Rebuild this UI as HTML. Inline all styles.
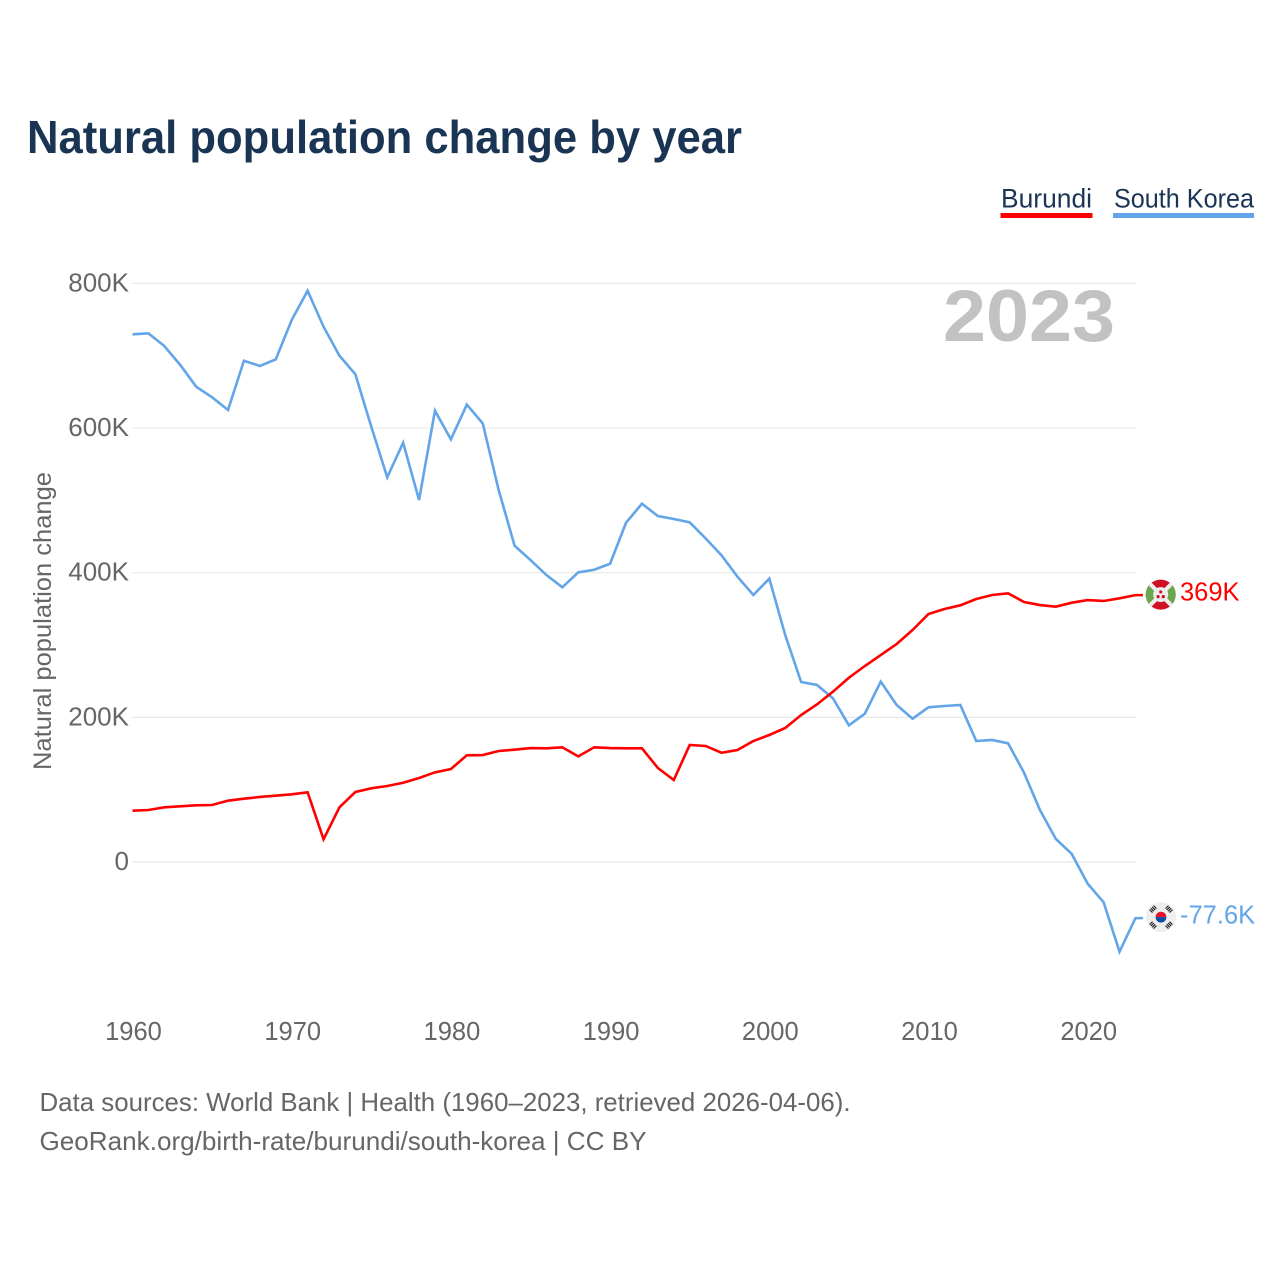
<!DOCTYPE html>
<html lang="en">
<head>
<meta charset="utf-8">
<title>Natural population change by year</title>
<style>
html,body{margin:0;padding:0;background:#fff;width:1280px;height:1280px;overflow:hidden}
svg{display:block;font-family:"Liberation Sans",sans-serif}
</style>
</head>
<body>
<svg id="chart" width="1280" height="1280" viewBox="0 0 1280 1280" xmlns="http://www.w3.org/2000/svg">
  <rect width="1280" height="1280" fill="#fff"/>
  <text x="27" y="153" font-size="46" font-weight="700" fill="#1a3454" textLength="715" lengthAdjust="spacingAndGlyphs">Natural population change by year</text>

  <g>
    <text x="1001" y="207.5" font-size="27" fill="#1a3454" textLength="91" lengthAdjust="spacingAndGlyphs">Burundi</text>
    <rect x="1000.5" y="213" width="92" height="5" fill="#ff0000"/>
  </g>
  <g>
    <text x="1114" y="207.5" font-size="27" fill="#1a3454" textLength="140" lengthAdjust="spacingAndGlyphs">South Korea</text>
    <rect x="1113" y="213" width="141" height="5" fill="#62a5e8"/>
  </g>

  <g id="grid"></g>
  <g id="yticks"></g>
  <g id="xticks"></g>

  <text transform="translate(51,621) rotate(-90)" text-anchor="middle" font-size="25" fill="#666" textLength="298" lengthAdjust="spacingAndGlyphs">Natural population change</text>
  <text x="943" y="341" font-size="73" font-weight="700" fill="#c2c2c2" textLength="172" lengthAdjust="spacingAndGlyphs">2023</text>

  <g id="series"></g>

  <g id="flag-burundi">
    <clipPath id="clip-bi"><circle r="15"/></clipPath>
    <g clip-path="url(#clip-bi)">
      <rect x="-16" y="-16" width="32" height="32" fill="#ce1126"/>
      <polygon points="-16,-16 0,0 -16,16" fill="#6aa84f"/>
      <polygon points="16,-16 0,0 16,16" fill="#6aa84f"/>
      <line x1="-16" y1="-16" x2="16" y2="16" stroke="#eee" stroke-width="4"/>
      <line x1="16" y1="-16" x2="-16" y2="16" stroke="#eee" stroke-width="4"/>
      <circle r="7.5" fill="#eee"/>
      <circle cx="0" cy="-2.7" r="1.6" fill="#ce1126"/>
      <circle cx="-2.6" cy="2" r="1.6" fill="#ce1126"/>
      <circle cx="2.6" cy="2" r="1.6" fill="#ce1126"/>
    </g>
  </g>
  <g id="flag-korea">
    <circle r="15" fill="#eeeeee"/>
    <path d="M-5.4,0 A5.4,5.4 0 0 1 5.4,0 Z" fill="#e8112d"/>
    <path d="M-5.4,0 A5.4,5.4 0 0 0 5.4,0 Z" fill="#0b4ea2"/>
    <g stroke="#222" stroke-width="4.2" stroke-dasharray="1.2 .7" fill="none">
      <line x1="-10.4" y1="-5.6" x2="-5.6" y2="-10.4"/>
      <line x1="10.4" y1="-5.6" x2="5.6" y2="-10.4"/>
      <line x1="-10.4" y1="5.6" x2="-5.6" y2="10.4"/>
      <line x1="10.4" y1="5.6" x2="5.6" y2="10.4"/>
    </g>
  </g>
  <text id="label-burundi" x="1180" font-size="25.5" fill="#ff0000"></text>
  <text id="label-korea" x="1180" font-size="25.5" fill="#62a5e8"></text>

  <text x="39.5" y="1111" font-size="26" fill="#666" textLength="811" lengthAdjust="spacingAndGlyphs">Data sources: World Bank | Health (1960–2023, retrieved 2026-04-06).</text>
  <text x="39.5" y="1150" font-size="26" fill="#666" textLength="607" lengthAdjust="spacingAndGlyphs">GeoRank.org/birth-rate/burundi/south-korea | CC BY</text>
</svg>
<script>
const firstYear = 1960;
const burundiValues = [70.9,71.9,75.6,77,78.4,78.8,84.8,87.5,89.9,91.7,93.6,96.4,31.4,75.6,96.8,101.9,105.1,109.6,116.1,124,128.6,147.5,147.9,153.5,155.3,157.6,157.2,158.6,146.1,158.6,157.6,157.2,157.2,130,113.4,161.8,160.4,151.1,154.9,167.3,175.6,185.3,203.2,218,235.5,254.8,271,286.2,301.4,320.8,342.9,349.8,354.9,363.6,369.2,371.5,359.5,355.3,353,358.5,362.2,360.9,364.6,369];
const koreaValues = [729.6,731,713.4,687.2,657.2,642.5,625,693.1,685.8,695,749.4,789.9,740.1,700,674.3,601.8,531.9,579.7,500.5,624,584.4,632.3,606.5,514.3,437.3,417.5,396.8,379.8,400.5,404.1,412.4,469.1,495.4,478.4,474.2,469.7,447.5,424,394.5,369.2,391.7,313.9,248.9,244.7,226.3,189,205,249.3,217.1,198.1,213.9,215.7,217.1,167.3,168.7,164.1,123.5,71.9,31.8,11.1,-30,-55.7,-124,-77.6];
const yTickValues = [0,200,400,600,800];
const yTickLabels = ['0','200K','400K','600K','800K'];
const xTickValues = [1960,1970,1980,1990,2000,2010,2020];

const NS = 'http://www.w3.org/2000/svg';
function xScale(year){ return 132.5 + (year - 1960) * 15.92; }
function yScale(v){ return 862 - v * 0.72325; }
function formatValue(v){
  const a = Math.abs(v);
  return (v < 0 ? '-' : '') + (a >= 100 ? String(Math.round(a)) : a.toFixed(1)) + 'K';
}

const grid = document.getElementById('grid');
const yticks = document.getElementById('yticks');
const xticks = document.getElementById('xticks');
const seriesGroup = document.getElementById('series');

yTickValues.forEach(function(v, i){
  const line = document.createElementNS(NS, 'line');
  
  
  line.setAttribute('x1', 132);
  line.setAttribute('x2', 1136);
  line.setAttribute('y1', yScale(v));
  line.setAttribute('y2', yScale(v));
  line.setAttribute('stroke', '#e8e8e8');
  line.setAttribute('stroke-width', '1.2');
  grid.appendChild(line);

  const t = document.createElementNS(NS, 'text');
  
  
  t.setAttribute('x', 129);
  t.setAttribute('y', yScale(v) + 8);
  t.setAttribute('text-anchor', 'end');
  t.setAttribute('font-size', '26');
  t.setAttribute('fill', '#666');
  t.textContent = yTickLabels[i];
  yticks.appendChild(t);
});

xTickValues.forEach(function(year){
  const t = document.createElementNS(NS, 'text');
  
  
  t.setAttribute('x', xScale(year) + 1);
  t.setAttribute('y', 1040);
  t.setAttribute('text-anchor', 'middle');
  t.setAttribute('font-size', '25.5');
  t.setAttribute('fill', '#666');
  t.textContent = String(year);
  xticks.appendChild(t);
});

function linePath(values){
  const pts = values.map(function(v, i){
    return xScale(firstYear + i).toFixed(2) + ',' + yScale(v).toFixed(2);
  });
  const last = values[values.length - 1];
  pts.push((xScale(firstYear + values.length - 1) + 7.5).toFixed(2) + ',' + yScale(last).toFixed(2));
  return 'M' + pts.join('L');
}

const koreaLine = document.createElementNS(NS, 'path');


koreaLine.setAttribute('d', linePath(koreaValues));
koreaLine.setAttribute('fill', 'none');
koreaLine.setAttribute('stroke', '#62a5e8');
koreaLine.setAttribute('stroke-width', '2.6');
koreaLine.setAttribute('stroke-linejoin', 'miter');
seriesGroup.appendChild(koreaLine);

const burundiLine = document.createElementNS(NS, 'path');


burundiLine.setAttribute('d', linePath(burundiValues));
burundiLine.setAttribute('fill', 'none');
burundiLine.setAttribute('stroke', '#ff0000');
burundiLine.setAttribute('stroke-width', '2.6');
burundiLine.setAttribute('stroke-linejoin', 'miter');
seriesGroup.appendChild(burundiLine);

const biLast = burundiValues[burundiValues.length - 1];
const krLast = koreaValues[koreaValues.length - 1];
document.getElementById('flag-burundi').setAttribute('transform', 'translate(1160.7,' + (yScale(biLast) - 0.5) + ')');
document.getElementById('flag-korea').setAttribute('transform', 'translate(1161,' + (yScale(krLast) - 1) + ')');
const biLabel = document.getElementById('label-burundi');
biLabel.setAttribute('y', yScale(biLast) + 5.5);
biLabel.textContent = formatValue(biLast);
const krLabel = document.getElementById('label-korea');
krLabel.setAttribute('y', yScale(krLast) + 5.5);
krLabel.textContent = formatValue(krLast);
</script>
</body>
</html>
